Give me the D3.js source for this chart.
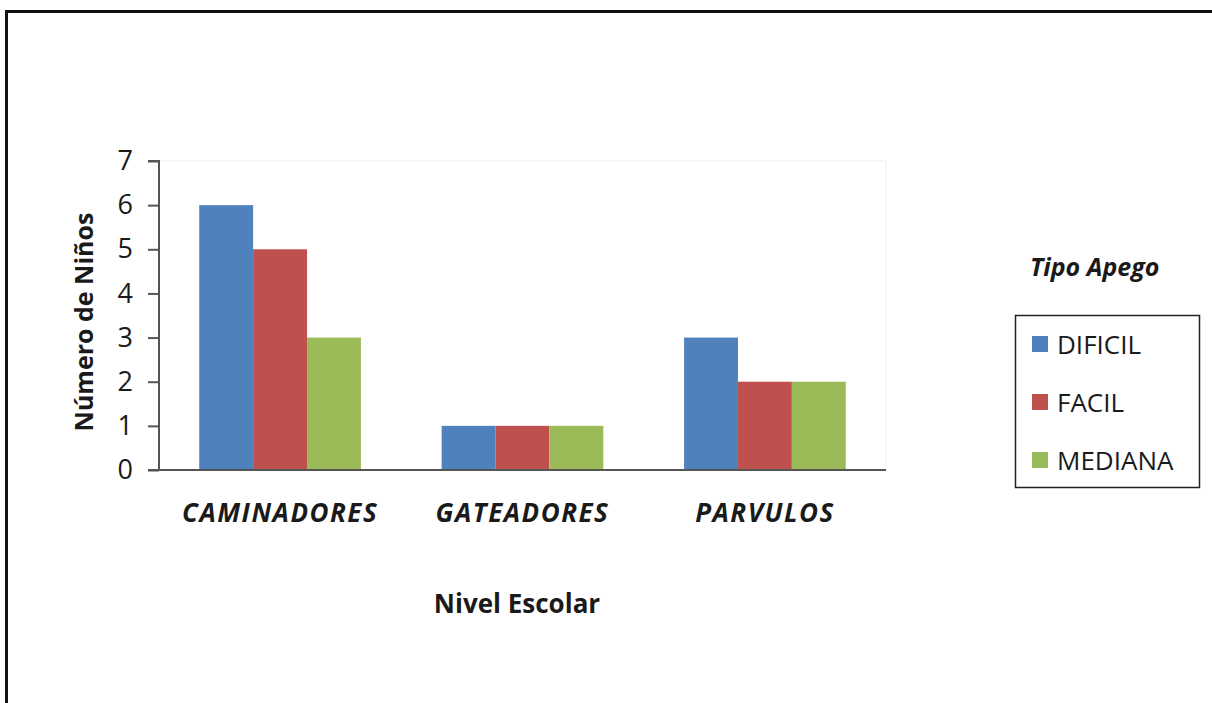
<!DOCTYPE html>
<html>
<head>
<meta charset="utf-8">
<script src="https://cdn.jsdelivr.net/npm/d3@7"></script>
<style>
  html, body { margin: 0; padding: 0; background: #fff; }
  svg { display: block; }
  text { font-family: "Open Sans", "Liberation Sans", sans-serif; fill: #1a1a1a; }
</style>
</head>
<body>
<svg id="chart" width="1212" height="703"></svg>
<script>
// Niveles escolares y tipos de apego
const categories = ["CAMINADORES", "GATEADORES", "PARVULOS"];
const seriesNames = ["DIFICIL", "FACIL", "MEDIANA"];
const dificil = [6, 1, 3];
const facil = [5, 1, 2];
const mediana = [3, 1, 2];
const yTicks = [0, 1, 2, 3, 4, 5, 6, 7];
const colors = ["#4F81BD", "#C0504D", "#9BBB59"];

const seriesValues = [dificil, facil, mediana];

const svg = d3.select("#chart");

// Marco exterior
svg.append("rect")
  .attr("x", 6.5).attr("y", 11.5)
  .attr("width", 1240).attr("height", 720)
  .attr("fill", "none")
  .attr("stroke", "#111").attr("stroke-width", 3);

const plot = { left: 159, right: 886, top: 161, bottom: 470 };

const x = d3.scaleBand()
  .domain(categories)
  .range([plot.left, plot.right])
  .paddingInner(0.333)
  .paddingOuter(0.166);

const xs = d3.scaleBand()
  .domain(seriesNames)
  .range([0, x.bandwidth()]);

const y = d3.scaleLinear()
  .domain([0, 7])
  .range([plot.bottom, plot.top]);

// Borde del área de trazado
svg.append("rect")
  .attr("x", plot.left).attr("y", plot.top)
  .attr("width", plot.right - plot.left).attr("height", plot.bottom - plot.top)
  .attr("fill", "none").attr("stroke", "#f0f0f0").attr("stroke-width", 1);

// Barras
const groups = svg.append("g").selectAll("g")
  .data(categories)
  .join("g")
  .attr("transform", d => `translate(${x(d)},0)`);

groups.selectAll("rect")
  .data((c, i) => seriesNames.map((s, k) => ({ s, k, v: seriesValues[k][i] })))
  .join("rect")
  .attr("x", d => xs(d.s))
  .attr("width", xs.bandwidth())
  .attr("y", d => y(d.v))
  .attr("height", d => y(0) - y(d.v))
  .attr("fill", d => colors[d.k]);

// Eje Y
const yAxis = svg.append("g")
  .attr("transform", `translate(${plot.left},0)`)
  .call(d3.axisLeft(y).tickValues(yTicks).tickFormat(d3.format("d")).tickSize(11).tickPadding(15));
yAxis.select(".domain").attr("stroke", "#555").attr("stroke-width", 2).attr("d", `M-11,${y(7)}H0V${y(0)}H-11`);
yAxis.selectAll(".tick line").attr("stroke", "#555").attr("stroke-width", 2);
yAxis.selectAll(".tick text")
  .attr("font-size", 27).attr("fill", "#222")
  .attr("font-family", "'Open Sans', 'Liberation Sans', sans-serif");

// Eje X
svg.append("line")
  .attr("x1", plot.left - 11).attr("x2", plot.right)
  .attr("y1", plot.bottom).attr("y2", plot.bottom)
  .attr("stroke", "#555").attr("stroke-width", 2);

svg.append("g").selectAll("text")
  .data(categories)
  .join("text")
  .attr("x", d => x(d) + x.bandwidth() / 2)
  .attr("y", 522)
  .attr("text-anchor", "middle")
  .attr("font-size", 26)
  .attr("letter-spacing", 1.5)
  .attr("font-weight", "bold")
  .attr("font-style", "italic")
  .text(d => d);

// Títulos de ejes
svg.append("text")
  .attr("x", 517).attr("y", 613)
  .attr("text-anchor", "middle")
  .attr("font-size", 26).attr("font-weight", "bold")
  .text("Nivel Escolar");

svg.append("text")
  .attr("transform", "translate(93,322) rotate(-90)")
  .attr("text-anchor", "middle")
  .attr("font-size", 25).attr("font-weight", "bold")
  .text("Número de Niños");

// Leyenda
svg.append("text")
  .attr("x", 1030).attr("y", 276)
  .attr("font-size", 25).attr("font-weight", "bold").attr("font-style", "italic")
  .text("Tipo Apego");

svg.append("rect")
  .attr("x", 1015.5).attr("y", 315.5)
  .attr("width", 184).attr("height", 172)
  .attr("fill", "#fff").attr("stroke", "#222").attr("stroke-width", 1.5);

const legendY = d3.scalePoint().domain(seriesNames).range([344, 460]);
const items = svg.append("g").selectAll("g")
  .data(seriesNames)
  .join("g")
  .attr("transform", d => `translate(1032,${legendY(d)})`);
items.append("rect")
  .attr("x", 0).attr("y", -8).attr("width", 16).attr("height", 16)
  .attr("fill", (d, i) => colors[i]);
items.append("text")
  .attr("x", 25).attr("y", 9.5)
  .attr("font-size", 26)
  .text(d => d);
</script>
</body>
</html>
